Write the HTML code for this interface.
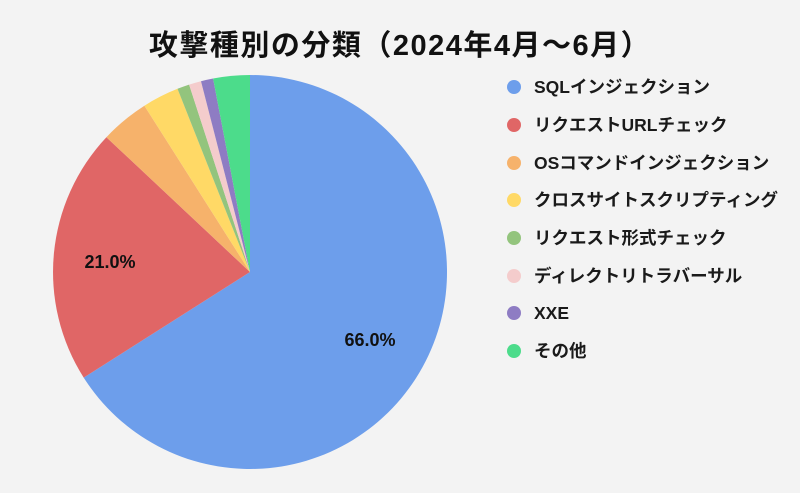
<!DOCTYPE html>
<html><head><meta charset="utf-8"><style>
html,body{margin:0;padding:0;background:#f3f3f3;}
body{width:800px;height:493px;overflow:hidden;position:relative;font-family:"Liberation Sans","Noto Sans CJK JP",sans-serif;}
.t{position:absolute;left:0;width:800px;top:22px;text-align:center;font-size:29px;font-weight:bold;color:#111;letter-spacing:1.5px;}
.lg{position:absolute;left:507px;font-size:17.5px;font-weight:bold;color:#1a1a1a;height:20px;line-height:20px;}
.lg i{display:inline-block;width:14px;height:14px;border-radius:50%;vertical-align:-1px;margin-right:13px;}
</style></head><body>
<div class="t">攻撃種別の分類（2024年4月〜6月）</div>
<svg width="800" height="493" style="position:absolute;left:0;top:0">
<g stroke="none">
<path d="M250,272 L250,75 A197,197 0 1 1 83.7,377.6 Z" fill="#6d9eeb"/>
<path d="M250,272 L83.7,377.6 A197,197 0 0 1 106.4,137.2 Z" fill="#e06666"/>
<path d="M250,272 L106.4,137.2 A197,197 0 0 1 144.4,105.7 Z" fill="#f6b26b"/>
<path d="M250,272 L144.4,105.7 A197,197 0 0 1 177.5,88.8 Z" fill="#ffd966"/>
<path d="M250,272 L177.5,88.8 A197,197 0 0 1 189.1,84.6 Z" fill="#93c47d"/>
<path d="M250,272 L189.1,84.6 A197,197 0 0 1 201.0,81.2 Z" fill="#f4cccc"/>
<path d="M250,272 L201.0,81.2 A197,197 0 0 1 213.1,78.5 Z" fill="#8e7cc3"/>
<path d="M250,272 L213.1,78.5 A197,197 0 0 1 250,75 Z" fill="#4cdc8b"/>
</g>
<text x="370" y="346" font-size="18" font-weight="bold" text-anchor="middle" fill="#111" font-family="Liberation Sans, sans-serif">66.0%</text>
<text x="110" y="268" font-size="18" font-weight="bold" text-anchor="middle" fill="#111" font-family="Liberation Sans, sans-serif">21.0%</text>
</svg>
<div class="lg" style="top:77px"><i style="background:#6d9eeb"></i>SQLインジェクション</div>
<div class="lg" style="top:115px"><i style="background:#e06666"></i>リクエストURLチェック</div>
<div class="lg" style="top:153px"><i style="background:#f6b26b"></i>OSコマンドインジェクション</div>
<div class="lg" style="top:190px"><i style="background:#ffd966"></i>クロスサイトスクリプティング</div>
<div class="lg" style="top:228px"><i style="background:#93c47d"></i>リクエスト形式チェック</div>
<div class="lg" style="top:266px"><i style="background:#f4cccc"></i>ディレクトリトラバーサル</div>
<div class="lg" style="top:303px"><i style="background:#8e7cc3"></i>XXE</div>
<div class="lg" style="top:341px"><i style="background:#4cdc8b"></i>その他</div>
</body></html>
